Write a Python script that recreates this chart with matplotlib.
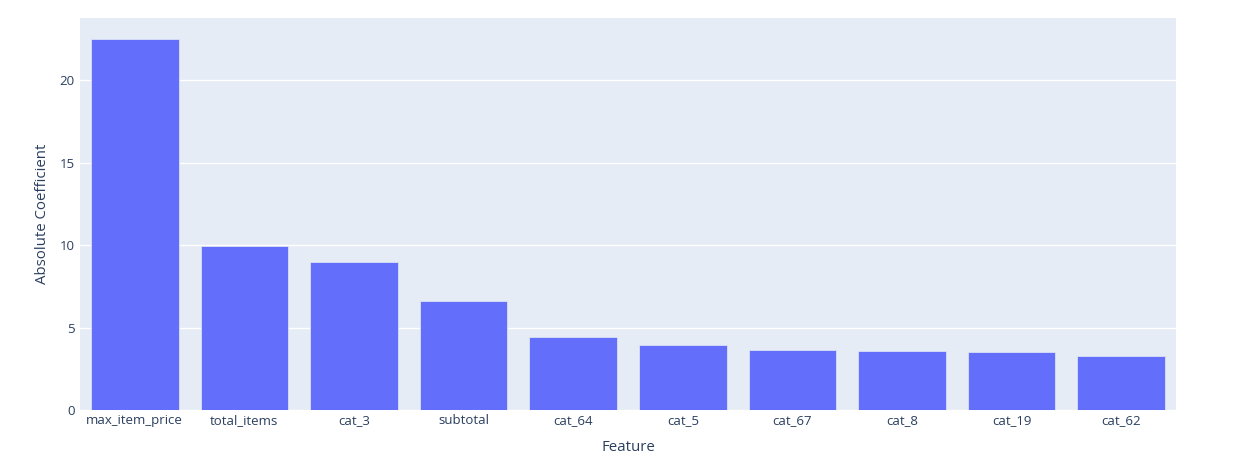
import matplotlib
matplotlib.use("Agg")
import matplotlib.pyplot as plt

features = ["max_item_price", "total_items", "cat_3", "subtotal", "cat_64",
            "cat_5", "cat_67", "cat_8", "cat_19", "cat_62"]
coefs = [22.52, 9.92, 8.95, 6.61, 4.40, 3.94, 3.67, 3.59, 3.51, 3.25]
yticks = [0, 5, 10, 15, 20]

plt.rcParams["font.family"] = ["Open Sans", "DejaVu Sans"]
txt = "#2a3f5f"

fig = plt.figure(figsize=(12.56, 4.70), dpi=100)
ax = fig.add_axes([80 / 1256, 60 / 470, 1096 / 1256, 392 / 470])
ax.set_facecolor("#E5ECF6")

x = list(range(len(features)))
ax.bar(x, coefs, width=0.8, color="#636efa", edgecolor="#E5ECF6", linewidth=0.5, zorder=3)

ax.set_xlim(-0.5, len(features) - 0.5)
ax.set_ylim(0, 23.78)
ax.set_yticks(yticks)
ax.set_xticks(x)
ax.set_xticklabels(features)
ax.grid(axis="y", color="white", linewidth=1, zorder=0)
ax.set_axisbelow(True)
for s in ax.spines.values():
    s.set_visible(False)
ax.tick_params(length=0, labelsize=9.5, labelcolor=txt)
ax.tick_params(axis="y", pad=4)
ax.tick_params(axis="x", pad=3)

ax.set_xlabel("Feature", fontsize=10.8, color=txt, labelpad=9)
ax.set_ylabel("Absolute Coefficient", fontsize=10.8, color=txt, labelpad=7)

fig.savefig("out.png", dpi=100)
